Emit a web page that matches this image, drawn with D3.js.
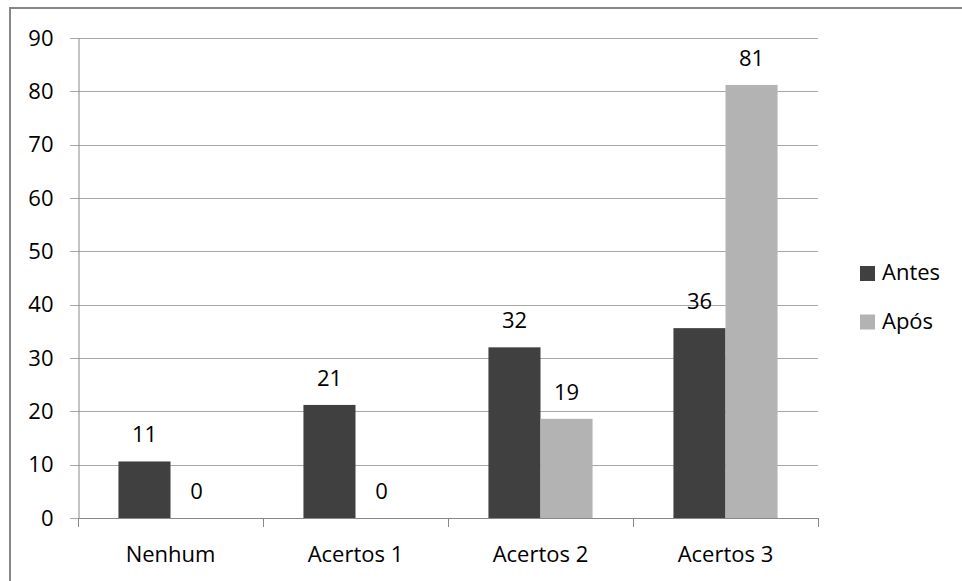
<!DOCTYPE html>
<html><head><meta charset="utf-8">
<script src="https://cdn.jsdelivr.net/npm/d3@7"></script>
<style>body{margin:0;background:#fff}svg{display:block}text{font-family:"Open Sans",sans-serif;fill:#000}</style>
</head><body><svg id="c" width="962" height="581"></svg>
<script>
const categories = ["Nenhum","Acertos 1","Acertos 2","Acertos 3"];
const seriesNames = ["Antes","Após"];
const antes = [10.6, 21.2, 32.0, 35.6];
const apos = [0, 0, 18.6, 81.2];
const yTicks = [0,10,20,30,40,50,60,70,80,90];
const colors = ["#404040","#b3b3b3"];

const svg = d3.select("#c");
const W=962,H=581;
svg.append("rect").attr("width",W).attr("height",H).attr("fill","#fff");
// frame (left + top)
svg.append("path").attr("d",`M10,${H} L10,8 L${W},8`).attr("fill","none").attr("stroke","#878787").attr("stroke-width",2);

const L=78,R=818,T=38,B=518;
const x = d3.scaleBand().domain(categories).range([L,R]).paddingInner(0).paddingOuter(0);
const inner = d3.scaleBand().domain(seriesNames).range([0,x.bandwidth()]).paddingInner(0).paddingOuter(0.777);
const y = d3.scaleLinear().domain([0,90]).range([B,T]);

// gridlines
svg.append("g").selectAll("line").data(yTicks).join("line")
  .attr("x1",70).attr("x2",R).attr("y1",d=>Math.round(y(d))+0.5).attr("y2",d=>Math.round(y(d))+0.5)
  .attr("stroke","#a6a6a6").attr("stroke-width",1);

// y axis
const yAxis = d3.axisLeft(y).tickValues(yTicks).tickSize(0).tickPadding(25);
const gy = svg.append("g").attr("transform",`translate(${L+0.5},0)`).call(yAxis);
gy.select(".domain").attr("stroke","#888");
gy.selectAll("text").style("font-size","22px").attr("fill","#000").attr("font-family","Open Sans");

// bars
const data = categories.map((c,i)=>({c, vals:[antes[i],apos[i]]}));
const g = svg.append("g").selectAll("g").data(data).join("g").attr("transform",d=>`translate(${x(d.c)},0)`);
g.selectAll("rect").data(d=>d.vals.map((v,j)=>({v,s:seriesNames[j],j}))).join("rect")
  .attr("x",d=>inner(d.s)).attr("width",inner.bandwidth())
  .attr("y",d=>y(d.v)).attr("height",d=>B-y(d.v)).attr("fill",d=>colors[d.j]);
g.selectAll("text.lab").data(d=>d.vals.map((v,j)=>({v,s:seriesNames[j],j}))).join("text").attr("class","lab")
  .attr("x",d=>inner(d.s)+inner.bandwidth()/2).attr("y",d=>y(d.v)-19)
  .attr("text-anchor","middle").style("font-size","22px").text(d=>d3.format(".0f")(d.v));

// x axis
const xAxis = d3.axisBottom(x).tickSize(0).tickPadding(28);
const gx = svg.append("g").attr("transform",`translate(0,${B+0.5})`).call(xAxis);
gx.select(".domain").attr("stroke","#888").attr("d",`M${L},0H${R}`);
gx.selectAll("text").style("font-size","22px").attr("fill","#000").attr("font-family","Open Sans");
// category boundary ticks
const bounds = categories.map(c=>x(c)).concat([R]);
svg.append("g").selectAll("line").data(bounds).join("line")
  .attr("x1",d=>Math.round(d)+0.5).attr("x2",d=>Math.round(d)+0.5).attr("y1",B).attr("y2",B+9)
  .attr("stroke","#888");

// legend
const lg = svg.append("g").selectAll("g").data(seriesNames).join("g")
  .attr("transform",(d,i)=>`translate(860,${266+i*48.5})`);
lg.append("rect").attr("width",15).attr("height",15).attr("fill",(d,i)=>colors[i]);
lg.append("text").attr("x",22).attr("y",14).style("font-size","22px").text(d=>d);
</script></body></html>
